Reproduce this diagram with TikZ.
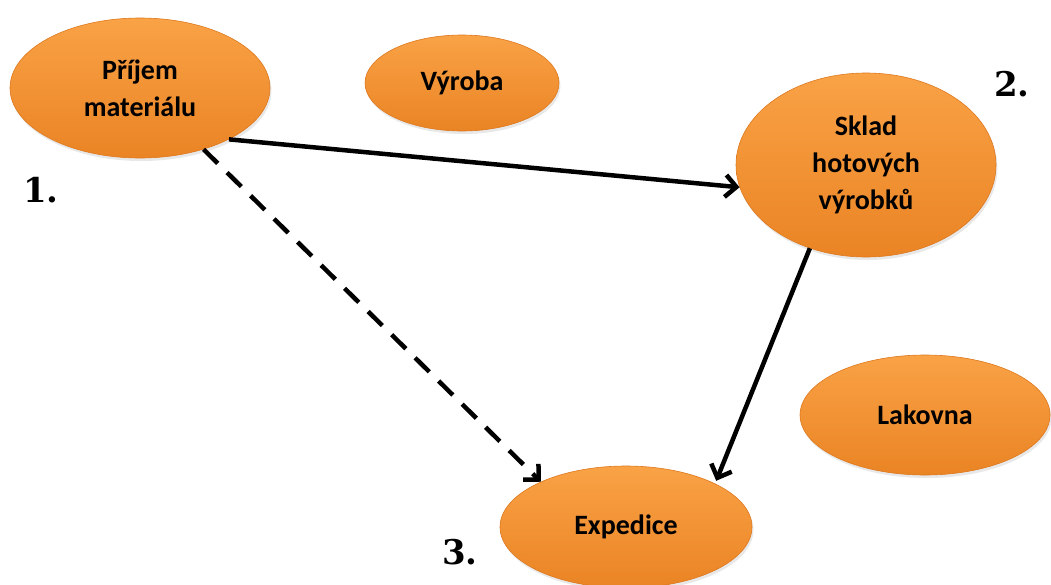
\documentclass[tikz,border=0pt]{standalone}
\usepackage{fontspec}
\newfontfamily\labelfont{Carlito}
\newfontfamily\numfont{DejaVu Serif}
\usetikzlibrary{arrows.meta,shapes.geometric,shadows}

\definecolor{orngtop}{RGB}{249,162,70}
\definecolor{orngmid}{RGB}{247,150,50}
\definecolor{orngbot}{RGB}{234,132,36}
\definecolor{orngrim}{RGB}{222,120,30}

\begin{document}
\begin{tikzpicture}[
  x=1pt, y=-1pt,
  place/.style={ellipse, inner sep=0pt, align=center, draw=orngrim, line width=0.6pt,
    top color=orngtop, middle color=orngmid, bottom color=orngbot,
    drop shadow={opacity=0.18, shadow xshift=1.5pt, shadow yshift=-3pt},
    font=\labelfont\bfseries\fontsize{28}{37}\selectfont},
  num/.style={font=\numfont\bfseries\fontsize{34}{34}\selectfont},
  flow/.style={-{Straight Barb[length=11pt,width=22pt]}, line width=4.5pt},
  alt/.style={flow, dash pattern=on 20pt off 13pt}
]
\useasboundingbox (0,0) rectangle (1051,584);

\node[place, minimum width=260pt, minimum height=140pt] (prijem) at (140,88) {Příjem\\ materiálu};
\node[place, minimum width=194pt, minimum height=96pt] (vyroba) at (462,83) {Výroba};
\node[place, minimum width=260pt, minimum height=184pt] (sklad) at (866,165) {Sklad\\ hotových\\ výrobků};
\node[place, minimum width=250pt, minimum height=120pt] (lakovna) at (925,415) {Lakovna};
\node[place, minimum width=252pt, minimum height=122pt] (expedice) at (626,527) {Expedice};

\node[num] (n1) at (41,190) {1.};
\node[num] (n2) at (1012,84) {2.};
\node[num] (n3) at (460,552) {3.};

\draw[flow] (prijem.-30) -- (sklad.190);
\draw[alt] (prijem.-44) -- (expedice.152);
\draw[flow, shorten >=3pt] (sklad.236) -- (expedice.26);
\end{tikzpicture}
\end{document}
